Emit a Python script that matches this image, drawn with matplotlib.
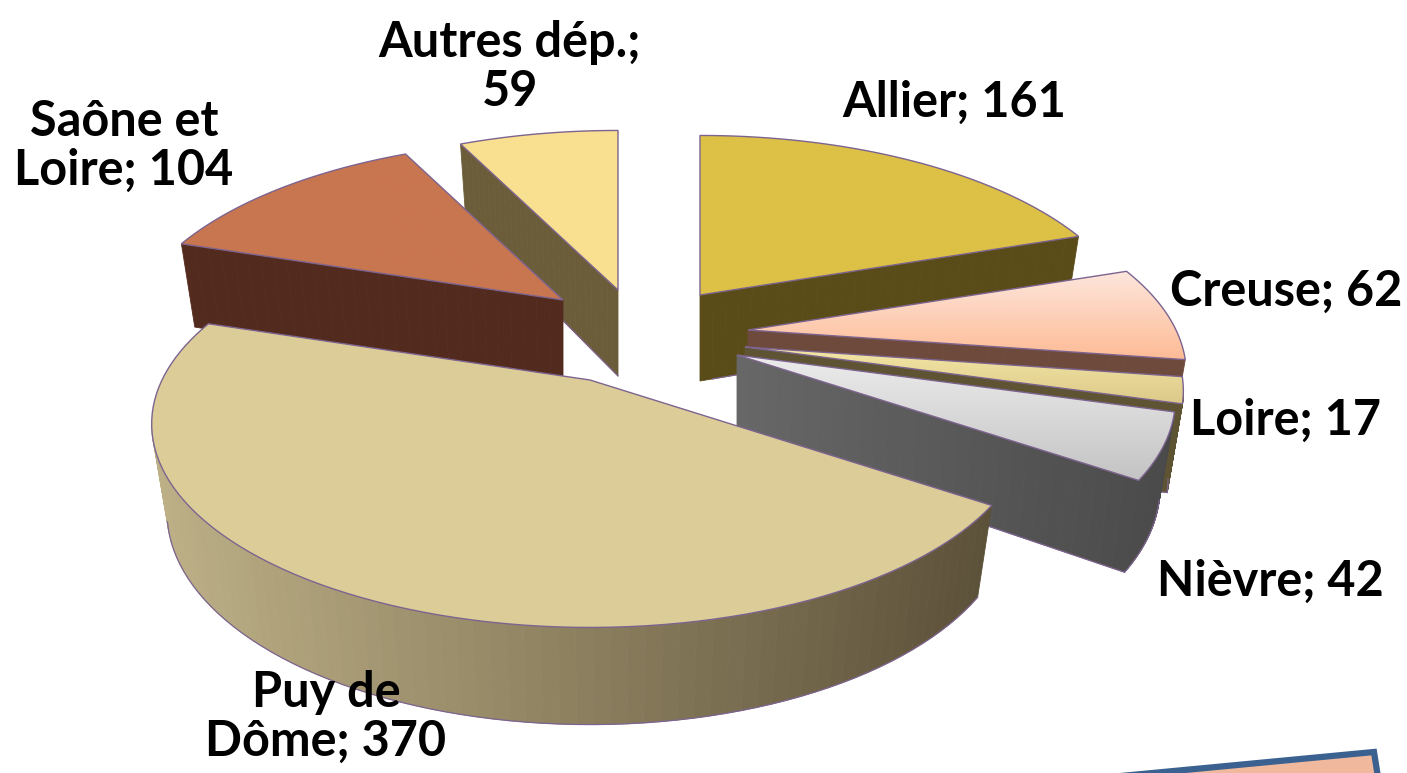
"""
Exploded pseudo-3D pie of counts per departement, drawn in pixel coordinates.
"""

import matplotlib
matplotlib.use("Agg")
import matplotlib.pyplot as plt
import numpy as np
from matplotlib.colors import LinearSegmentedColormap, to_rgb
from matplotlib.patches import Polygon

categories = ["Allier", "Creuse", "Loire", "Nièvre", "Puy de\nDôme", "Saône et\nLoire", "Autres dép."]
values = [161, 62, 17, 42, 370, 104, 59]

# apex of each slice on the canvas (explode offsets)
apex_x = [700, 748, 745, 737, 590, 563, 618]
apex_y = [295, 330, 347, 355, 380, 300, 290]

top_light = ["#dcc146", "#fde6dc", "#f3e6a4", "#ececec", "#dccd98", "#c8764f", "#f9df90"]
top_dark = ["#dcc146", "#fdbb96", "#dcc98a", "#c4c4c4", "#dccd98", "#c8764f", "#f9df90"]
side_left = ["#5a4c18", "#6e4a3c", "#5e5433", "#676767", "#bdb087", "#532b1e", "#6c5d3a"]
side_right = ["#5a4c18", "#6e4a3c", "#5e5433", "#4a4a4a", "#5c5139", "#532b1e", "#6c5d3a"]

label_x = [954, 1286, 1286, 1270, 326, 124, 510]
label_y = [102, 291, 420, 581, 717, 146, 67]

# fake camera
RX, RY, PERSP = 428, 194, 0.216
DEPTH, SHRINK = 86, 0.965
EDGE = "#7d6490"

plt.rcParams["font.family"] = ["Lato", "DejaVu Sans"]

W, H = 1407, 773


def project(cx, cy, ang):
    """Map clockwise-from-north angles onto the tilted disc."""
    u, v = np.sin(ang), np.cos(ang)
    f = 1 / (1 + PERSP * v)
    return cx + RX * u * f, cy - RY * v * f, f


def slice_ring(cx, cy, a0, a1):
    """Outline of the slice top, clockwise on screen, with per point scale."""
    arc = np.linspace(a0, a1, 90)
    ax_, ay_, af = project(cx, cy, arc)
    t = np.linspace(0, 1, 30)
    x = np.r_[cx + (ax_[0] - cx) * t, ax_, ax_[-1] + (cx - ax_[-1]) * t]
    y = np.r_[cy + (ay_[0] - cy) * t, ay_, ay_[-1] + (cy - ay_[-1]) * t]
    f = np.r_[1 + (af[0] - 1) * t, af, af[-1] + (1 - af[-1]) * t]
    return x, y, f


def draw_slice(ax, i, a0, a1, z):
    cx, cy = apex_x[i], apex_y[i]
    x, y, f = slice_ring(cx, cy, a0, a1)
    bx = cx + (x - cx) * SHRINK
    by = y + DEPTH * np.sqrt(f)

    c0, c1 = np.array(to_rgb(side_left[i])), np.array(to_rgb(side_right[i]))
    xmin, xmax = x.min(), x.max()
    for k in range(len(x) - 1):
        # clockwise outline: a segment running leftwards has its wall facing us
        if x[k + 1] >= x[k]:
            continue
        t = ((x[k] + x[k + 1]) / 2 - xmin) / (xmax - xmin)
        col = c0 + (c1 - c0) * t
        quad = [(x[k], y[k]), (x[k + 1], y[k + 1]), (bx[k + 1], by[k + 1]), (bx[k], by[k])]
        ax.add_patch(Polygon(quad, closed=True, fc=col, ec=col, lw=0.6, zorder=z))

    # outer rim of the visible walls
    vis = np.r_[x[1:] < x[:-1], False]
    ax.plot(np.where(vis, bx, np.nan), np.where(vis, by, np.nan), color=EDGE, lw=0.9, zorder=z + 0.1)

    outline = Polygon(np.c_[x, y], closed=True, fc="none", ec=EDGE, lw=1.0, zorder=z + 0.3)
    grad = LinearSegmentedColormap.from_list("top", [top_light[i], top_dark[i]])
    im = ax.imshow(np.linspace(0, 1, 64)[:, None], cmap=grad, aspect="auto", origin="upper",
                   extent=(xmin, xmax, y.max(), y.min()), zorder=z + 0.2)
    ax.add_patch(outline)
    im.set_clip_path(Polygon(np.c_[x, y], closed=True, transform=ax.transData))


def main() -> None:
    fig = plt.figure(figsize=(W / 100, H / 100), dpi=100)
    ax = fig.add_axes([0, 0, 1, 1])

    edges = np.radians(np.r_[0, np.cumsum(values)] / np.sum(values) * 360)

    # painter's order, back to front
    for z, i in enumerate([6, 5, 0, 1, 2, 3, 4]):
        draw_slice(ax, i, edges[i], edges[i + 1], 2 + z)

    # corner of the box that the crop cuts off
    ax.add_patch(Polygon([(1100, 790), (1100, 778), (1374, 752), (1380, 790)], closed=True,
                         fc="#f0b89c", ec="#3a6190", lw=4.5, zorder=1))

    for i, name in enumerate(categories):
        sep = ";\n" if name.startswith("Autres") else "; "
        ax.text(label_x[i], label_y[i], f"{name}{sep}{values[i]}", ha="center", va="center",
                fontsize=35, fontweight="bold", color="black", linespacing=1.12, zorder=20)

    ax.set_xlim(0, W)
    ax.set_ylim(H, 0)
    ax.axis("off")
    fig.savefig("out.png", dpi=100, facecolor="white")
    plt.close(fig)


if __name__ == "__main__":
    main()
